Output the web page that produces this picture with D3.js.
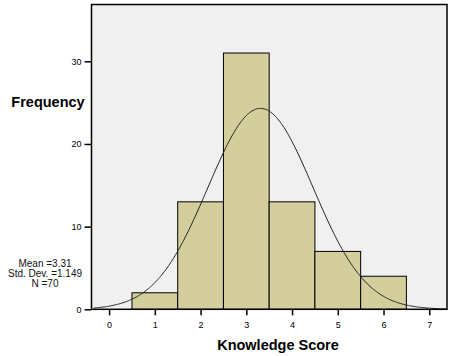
<!DOCTYPE html>
<html><head><meta charset="utf-8">
<script src="https://cdn.jsdelivr.net/npm/d3@7"></script>
<style>body{margin:0;background:#fff}svg{display:block}text{font-family:Arial,"Liberation Sans",sans-serif}</style>
</head><body>
<script>
const binCenters = [1, 2, 3, 4, 5, 6];
const counts = [2, 13, 31, 13, 7, 4];
const xTicks = [0, 1, 2, 3, 4, 5, 6, 7];
const yTicks = [0, 10, 20, 30];
const stats = ["Mean =3.31", "Std. Dev. =1.149", "N =70"];
const mean = 3.31, sd = 1.149, n = 70, binWidth = 1;

const W = 452, H = 356;
const L = 91.5, R = 447, T = 4.5, B = 309.3;
const svg = d3.select("body").append("svg").attr("width", W).attr("height", H);

const x = d3.scaleLinear().domain([-0.385, 7.388]).range([L, R]);
const y = d3.scaleLinear().domain([0, 36.87]).range([B, T]);

svg.append("rect").attr("x", L).attr("y", T).attr("width", R - L).attr("height", B - T).attr("fill", "#f0f0f0");

svg.selectAll("rect.bar").data(binCenters).join("rect").attr("class", "bar")
  .attr("x", d => x(d - binWidth / 2)).attr("width", d => x(d + binWidth / 2) - x(d - binWidth / 2))
  .attr("y", (d, i) => y(counts[i])).attr("height", (d, i) => y(0) - y(counts[i]))
  .attr("fill", "#d3ce9b").attr("stroke", "#000").attr("stroke-width", 1);

const pdf = v => n * binWidth * Math.exp(-0.5 * ((v - mean) / sd) ** 2) / (sd * Math.sqrt(2 * Math.PI));
const xs = d3.range(x.domain()[0] + 0.05, x.domain()[1] - 0.02, 0.02);
svg.append("path").datum(xs)
  .attr("d", d3.line().x(d => x(d)).y(d => y(pdf(d))).curve(d3.curveBasis))
  .attr("fill", "none").attr("stroke", "#222").attr("stroke-width", 1);

svg.append("rect").attr("x", L).attr("y", T).attr("width", R - L).attr("height", B - T)
  .attr("fill", "none").attr("stroke", "#000").attr("stroke-width", 1.5);

const yAxis = d3.axisLeft(y).tickValues(yTicks).tickSize(7).tickPadding(3).tickFormat(d3.format("d"));
const gy = svg.append("g").attr("transform", `translate(${L},0)`).call(yAxis);
gy.select(".domain").remove();
gy.selectAll(".tick line").attr("stroke", "#000").attr("stroke-width", 1.5);
gy.selectAll("text").attr("font-size", 9).attr("fill", "#000");

const xAxis = d3.axisBottom(x).tickValues(xTicks).tickSize(6).tickPadding(6).tickFormat(d3.format("d"));
const gx = svg.append("g").attr("transform", `translate(0,${B})`).call(xAxis);
gx.select(".domain").remove();
gx.selectAll(".tick line").attr("stroke", "#000").attr("stroke-width", 1.5);
gx.selectAll("text").attr("font-size", 9).attr("fill", "#000");

svg.append("text").attr("x", 48).attr("y", 107).attr("text-anchor", "middle")
  .attr("font-size", 14.5).attr("font-weight", "bold").text("Frequency");
svg.append("text").attr("x", 278).attr("y", 350).attr("text-anchor", "middle")
  .attr("font-size", 14.5).attr("font-weight", "bold").text("Knowledge Score");

svg.selectAll("text.stat").data(stats).join("text").attr("class", "stat")
  .attr("x", 45).attr("y", (d, i) => 267 + i * 10.2).attr("text-anchor", "middle")
  .attr("font-size", 10).attr("fill", "#111").text(d => d);
</script>
</body></html>
